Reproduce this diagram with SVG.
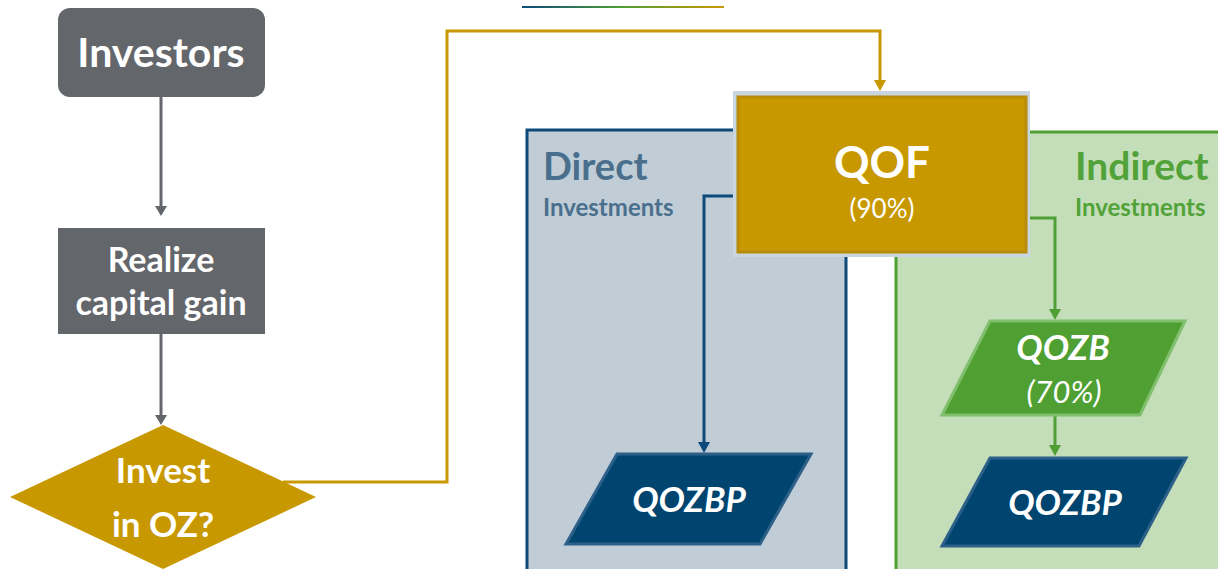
<svg xmlns="http://www.w3.org/2000/svg" width="1218" height="569" viewBox="0 0 1218 569">
<defs>
<linearGradient id="topline" gradientUnits="userSpaceOnUse" x1="522" y1="0" x2="724" y2="0">
<stop offset="0" stop-color="#0d4a7a"/>
<stop offset="0.5" stop-color="#4f9f35"/>
<stop offset="1" stop-color="#c89800"/>
</linearGradient>
<style>
.lbl{font-family:Lato,"Open Sans",sans-serif;font-weight:bold;fill:#fff;text-anchor:middle}
.par{stroke-width:3}
</style>
</defs>
<rect width="1218" height="569" fill="#fff"/>
<rect x="522" y="6" width="202" height="2" fill="url(#topline)"/>

<g id="direct-region">
<rect x="527" y="130" width="319" height="445" fill="#c0cdd7" stroke="#0d4a7a" stroke-width="3"/>
<text x="543" y="180" font-family="Lato,sans-serif" font-weight="bold" font-size="38" fill="#4a6f8c">Direct</text>
<text x="543" y="216" font-family="Lato,sans-serif" font-weight="bold" font-size="24" fill="#4a6f8c">Investments</text>
</g>
<g id="indirect-region">
<rect x="896" y="132" width="330" height="445" fill="#c3deb8" stroke="#4f9f35" stroke-width="3"/>
<text x="1075" y="180" font-family="Lato,sans-serif" font-weight="bold" font-size="39" fill="#52a23a">Indirect</text>
<text x="1075" y="216" font-family="Lato,sans-serif" font-weight="bold" font-size="24" fill="#52a23a">Investments</text>
</g>

<g id="connectors" fill="none" stroke-width="3">
<path d="M161,97 V208" stroke="#63666b"/>
<path d="M155,206 L167,206 L161,216 Z" fill="#63666b" stroke="none"/>
<path d="M161,334 V417" stroke="#63666b"/>
<path d="M155,415 L167,415 L161,425 Z" fill="#63666b" stroke="none"/>
<path d="M283,482 H447 V31 H880 V82" stroke="#c89800"/>
<path d="M874,80 L886,80 L880,91 Z" fill="#c89800" stroke="none"/>
<path d="M737,196 H704 V444" stroke="#0d4a7a"/>
<path d="M698,442 L710,442 L704,453 Z" fill="#0d4a7a" stroke="none"/>
<path d="M1027,218 H1055 V311" stroke="#4f9f35"/>
<path d="M1049,309 L1061,309 L1055,320 Z" fill="#4f9f35" stroke="none"/>
<path d="M1055,416 V447" stroke="#4f9f35"/>
<path d="M1049,445 L1061,445 L1055,456 Z" fill="#4f9f35" stroke="none"/>
</g>

<g id="investors">
<rect x="58" y="8" width="207" height="89" rx="12" fill="#63666b"/>
<text class="lbl" x="161" y="67" font-size="41">Investors</text>
</g>
<g id="realize">
<rect x="58" y="228" width="207" height="106" fill="#63666b"/>
<text class="lbl" x="161" y="272" font-size="34">Realize</text>
<text class="lbl" x="161" y="315" font-size="34">capital gain</text>
</g>
<g id="invest-oz">
<polygon points="163,425 316,497 163,569 10,497" fill="#c89800"/>
<text class="lbl" x="163" y="483" font-size="35">Invest</text>
<text class="lbl" x="163" y="537" font-size="35">in OZ?</text>
</g>
<g id="qof">
<rect x="733" y="91" width="297" height="166" fill="#c9d6df"/>
<rect x="738" y="97" width="288" height="155" fill="#c89800" stroke="#b88c08" stroke-width="3"/>
<text class="lbl" x="882" y="178" font-size="44">QOF</text>
<text x="882" y="218" font-family="Lato,sans-serif" font-size="26" fill="#fff" text-anchor="middle">(90%)</text>
</g>
<g id="qozbp-direct">
<polygon class="par" points="617,454 811,454 760,544 566,544" fill="#00456f" stroke="#2d6088"/>
<text class="lbl" x="689" y="512" font-size="35" font-style="italic">QOZBP</text>
</g>
<g id="qozb">
<polygon class="par" points="990,321 1185,321 1140,415 942,415" fill="#4f9f33" stroke="#80bf6c"/>
<text class="lbl" x="1063" y="360" font-size="35" font-style="italic">QOZB</text>
<text x="1064" y="403" font-family="Lato,sans-serif" font-size="31" font-style="italic" fill="#fff" text-anchor="middle">(70%)</text>
</g>
<g id="qozbp-indirect">
<polygon class="par" points="990,458 1186,458 1139,546 942,546" fill="#00456f" stroke="#2d6088"/>
<text class="lbl" x="1065" y="515" font-size="35" font-style="italic">QOZBP</text>
</g>
</svg>
